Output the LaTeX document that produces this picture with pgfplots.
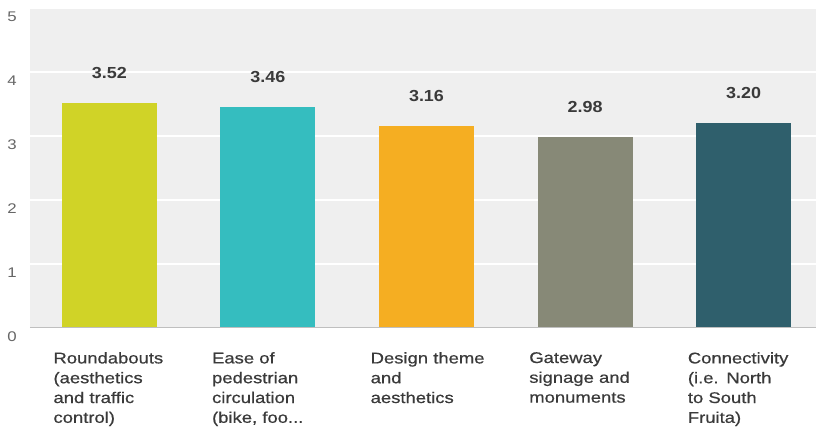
\documentclass[border=0pt]{standalone}
\usepackage{fontspec}
\setmainfont{Liberation Sans}[FakeStretch=1.2]
\newfontfamily\labfont{Liberation Sans}[FakeStretch=1.19, FakeBold=0.6]
\newfontfamily\valfont{Liberation Sans}[FakeStretch=1.12]
\usepackage{pgfplots}
\pgfplotsset{compat=1.18}
\definecolor{bgcol}{HTML}{EFEFEF}
\definecolor{cA}{HTML}{D0D327}
\definecolor{cB}{HTML}{35BDBF}
\definecolor{cC}{HTML}{F5AE22}
\definecolor{cD}{HTML}{878977}
\definecolor{cE}{HTML}{2F5F6C}
\definecolor{labcol}{HTML}{3A3A3A}
\definecolor{tickcol}{HTML}{666666}
\begin{document}
\begin{tikzpicture}
\useasboundingbox (0,0) rectangle (816pt,428pt);
\begin{axis}[
  at={(30pt,100pt)}, anchor=south west,
  scale only axis, width=786pt, height=320pt,
  xmin=-0.5, xmax=4.456, ymin=0, ymax=5,
  axis background/.style={fill=bgcol},
  axis line style={draw=none},
  major tick length=0pt,
  ytick={0,1,2,3,4,5},
  ymajorgrids, major grid style={white, line width=1.2pt},
  xtick={0,1,2,3,4},
  xticklabels={{Roundabouts\\(aesthetics\\and traffic\\control)},
               {Ease of\\pedestrian\\circulation\\(bike, foo{.}{.}{.}},
               {Design theme\\and\\aesthetics},
               {Gateway\\signage and\\monuments},
               {Connectivity\\(i.e. North\\to South\\Fruita)}},
  xticklabel style={anchor=north west, xshift=-56pt, yshift=-24pt, align=left, text width=140pt, inner sep=0pt,
     font=\labfont\fontsize{15.5}{19.8}\selectfont, text=labcol},
  yticklabel style={anchor=center, xshift=-18pt, yshift=-9pt, font=\fontsize{14}{16}\selectfont, text=tickcol},
  /pgf/number format/assume math mode=true,
  ybar, bar width=95pt, bar shift=0pt,
  nodes near coords,
  nodes near coords style={anchor=center, yshift=30pt, font=\valfont\bfseries\fontsize{16}{18}\selectfont, text=labcol, /pgf/number format/.cd, fixed, fixed zerofill, precision=2},
]
\addplot[fill=cA, draw=none] coordinates {(0,3.52)};
\addplot[fill=cB, draw=none] coordinates {(1,3.46)};
\addplot[fill=cC, draw=none] coordinates {(2,3.16)};
\addplot[fill=cD, draw=none] coordinates {(3,2.98)};
\addplot[fill=cE, draw=none] coordinates {(4,3.20)};
\draw[color=black!25, line width=1pt] (rel axis cs:0,0) -- (rel axis cs:1,0);
\end{axis}
\end{tikzpicture}
\end{document}
